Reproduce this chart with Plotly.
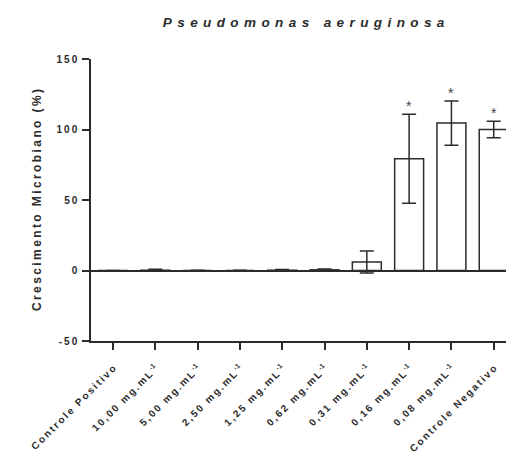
import plotly.graph_objects as go

# Growth data (% of negative control), mean and SD per treatment
categories = [
    "Controle Positivo",
    "10,00 mg.mL",
    "5,00 mg.mL",
    "2,50 mg.mL",
    "1,25 mg.mL",
    "0,62 mg.mL",
    "0,31 mg.mL",
    "0,16 mg.mL",
    "0,08 mg.mL",
    "Controle Negativo",
]
means = [-0.3, 0.2, 0.0, 0.0, 0.2, 0.5, 6.1, 79.3, 104.6, 100.0]
sds = [0.3, 0.6, 0.2, 0.2, 0.5, 0.6, 7.8, 31.6, 15.7, 5.9]
significant = [False, False, False, False, False, False, False, True, True, True]
y_ticks = [-50, 0, 50, 100, 150]

TS = "\u2009"  # thin space used as letter tracking


def tracked(s, sep=TS):
    return sep.join(s)


def tick_label(c):
    if "mg.mL" in c:
        return tracked(c) + "<sup> -1</sup>"
    return tracked(c)


FONT = "Liberation Sans, Arial, sans-serif"
INK = "#2b2b2b"

fig = go.Figure()
fig.add_trace(go.Bar(
    x=categories,
    y=means,
    width=0.685,
    marker=dict(color="white", line=dict(color=INK, width=1.5)),
    error_y=dict(type="data", array=sds, visible=True, color=INK, thickness=1.5, width=7),
))

for c, m, s, sig in zip(categories, means, sds, significant):
    if sig:
        fig.add_annotation(x=c, y=m + s, text="*", showarrow=False, yanchor="bottom",
                           yshift=-2, font=dict(family=FONT, size=14, color="#444"))

fig.update_layout(
    width=506,
    height=455,
    margin=dict(l=91, r=0, t=59, b=114),
    paper_bgcolor="white",
    plot_bgcolor="white",
    showlegend=False,
    bargap=0.3,
    title=dict(
        text="<i>" + tracked("Pseudomonas aeruginosa", TS + TS) + "</i>",
        x=0.6, xanchor="center", y=0.95, yanchor="middle",
        font=dict(family=FONT, size=13.5, color=INK, weight="bold"),
    ),
    xaxis=dict(
        type="category",
        range=[-0.52, 9.29],
        tickmode="array",
        tickvals=categories,
        ticktext=[tick_label(c) for c in categories],
        tickangle=-45,
        ticks="outside",
        ticklen=7,
        tickwidth=1.5,
        tickcolor=INK,
        ticklabelstandoff=9,
        showline=True,
        linecolor=INK,
        linewidth=1.5,
        showgrid=False,
        tickfont=dict(family=FONT, size=10, color=INK, weight="bold"),
    ),
    yaxis=dict(
        range=[-50, 150],
        tickmode="array",
        tickvals=y_ticks,
        ticktext=[tracked(str(v)) for v in y_ticks],
        ticks="outside",
        ticklen=7,
        tickwidth=1.5,
        tickcolor=INK,
        ticklabelstandoff=3,
        showline=True,
        linecolor=INK,
        linewidth=1.5,
        showgrid=False,
        zeroline=True,
        zerolinecolor=INK,
        zerolinewidth=1.5,
        tickfont=dict(family=FONT, size=10, color=INK, weight="bold"),
        title=dict(
            text=tracked("Crescimento Microbiano (%)"),
            font=dict(family=FONT, size=12, color=INK, weight="bold"),
            standoff=12,
        ),
    ),
)

fig.write_html("out.html")
